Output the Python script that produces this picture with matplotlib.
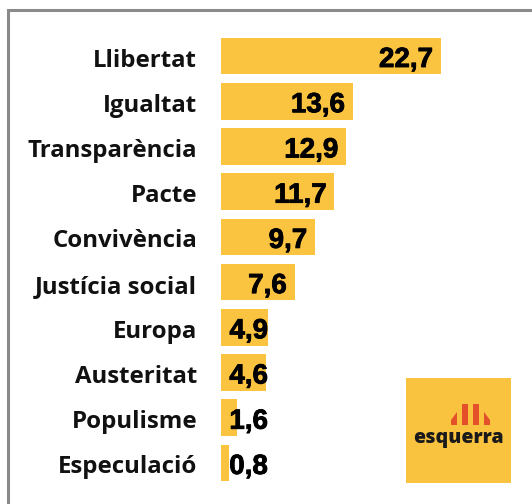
import matplotlib
matplotlib.use("Agg")
import matplotlib.pyplot as plt
from matplotlib.patches import Rectangle, Polygon
import matplotlib.patheffects as pe

categories = ["Llibertat", "Igualtat", "Transparència", "Pacte", "Convivència",
              "Justícia social", "Europa", "Austeritat", "Populisme", "Especulació"]
values = [22.7, 13.6, 12.9, 11.7, 9.7, 7.6, 4.9, 4.6, 1.6, 0.8]
value_labels = ["22,7", "13,6", "12,9", "11,7", "9,7", "7,6", "4,9", "4,6", "1,6", "0,8"]

W, H = 532, 504
fig = plt.figure(figsize=(W / 100, H / 100), dpi=100)

def fx(x):
    return x / W

def fy(y):
    return 1 - y / H

# frame (gray border, extending past right/bottom edges)
fig.patches.append(Rectangle((fx(7.5), fy(540)), fx(600), fy(9.5) - fy(540),
                             transform=fig.transFigure, fill=False,
                             edgecolor="#8a8a8a", linewidth=2.2, zorder=0))

left_px, right_px = 221, 520
top_px, bot_px = 33.4, 485.6
ax = fig.add_axes([fx(left_px), fy(bot_px), fx(right_px - left_px), (bot_px - top_px) / H])
scale = 9.69  # px per unit
ax.set_xlim(0, (right_px - left_px) / scale)
ax.set_ylim(len(categories) - 0.5, -0.5)
ax.axis("off")

bar_color = "#FBC440"
ys = list(range(len(categories)))
ax.barh(ys, values, height=0.81, color=bar_color, zorder=2)

# fit category label size so "Transparència" spans ~170 px
renderer = fig.canvas.get_renderer()
probe = fig.text(0, 0, "Transparència", fontsize=15, fontweight="bold", family="Open Sans")
wpx = probe.get_window_extent(renderer).width
probe.remove()
cat_fs = 15 * 170 / wpx

bold_fx = [pe.withStroke(linewidth=0.6, foreground="black")]
row_px = (bot_px - top_px) / len(categories)
for y, v, lab, cat in zip(ys, values, value_labels, categories):
    xr = max(v - 0.8, 4.85)
    ax.text(xr, y + 11 / row_px, lab, ha="right", va="baseline", fontsize=20, fontweight="bold",
            family="Liberation Sans", color="black", zorder=3, path_effects=bold_fx)
    ax.text(-(221 - 197) / scale, y + 10.5 / row_px, cat, ha="right", va="baseline", fontsize=cat_fs,
            fontweight="bold", family="Open Sans", color="#111111", zorder=3)

# logo
fig.patches.append(Rectangle((fx(406), fy(483)), fx(105), fy(378) - fy(483),
                             transform=fig.transFigure, facecolor="#F9C33F",
                             edgecolor="none", zorder=1))
stripes = [(451, 457, 425, 416), (462, 468, 425, 404), (473, 479, 425, 404), (484, 490, 425, 416)]
for x0, x1, yb, yt in stripes:
    if x0 < 460:
        pts = [(x0, yb), (x1, yb), (x1, yt - 4), (x0, yt + 4)]
    elif x0 > 482:
        pts = [(x0, yb), (x1, yb), (x1, yt + 4), (x0, yt - 4)]
    else:
        pts = [(x0, yb), (x1, yb), (x1, yt), (x0, yt)]
    fig.patches.append(Polygon([(fx(a), fy(b)) for a, b in pts], closed=True,
                               transform=fig.transFigure, facecolor="#E4502A",
                               edgecolor="none", zorder=2))
fig.text(fx(458), fy(443), "esquerra", ha="center", va="baseline", fontsize=14,
         fontweight="heavy", family="Open Sans", color="#1a1a1a", zorder=3)

fig.savefig("out.png", dpi=100)
